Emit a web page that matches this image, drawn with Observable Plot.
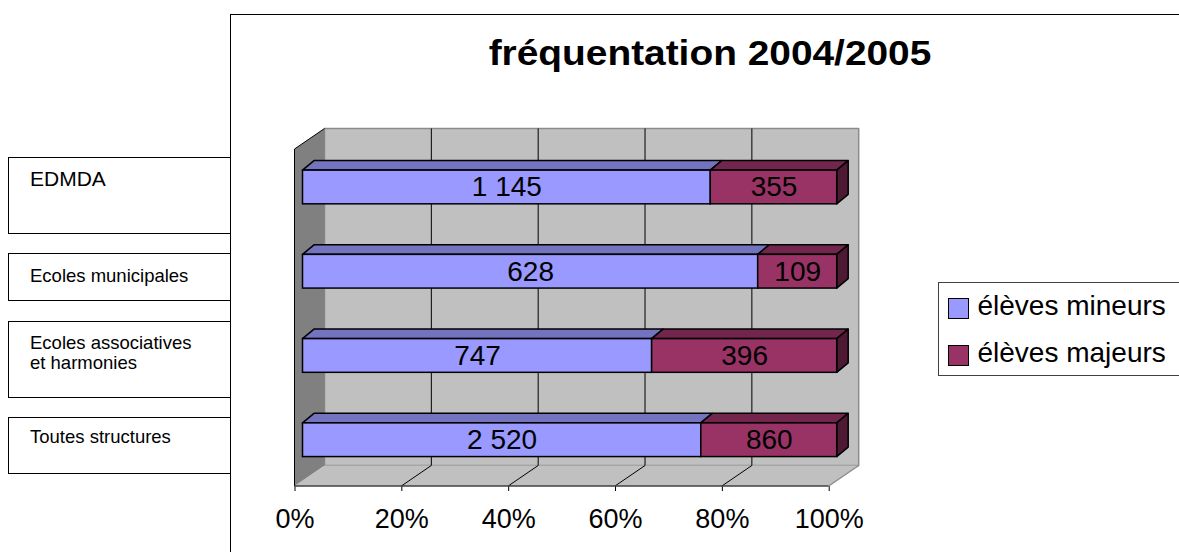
<!DOCTYPE html>
<html>
<head>
<meta charset="utf-8">
<script src="https://cdn.jsdelivr.net/npm/d3@7"></script>
<script src="https://cdn.jsdelivr.net/npm/@observablehq/plot@0.6"></script>
<style>
  html, body { margin: 0; padding: 0; }
  body { width: 1179px; height: 552px; overflow: hidden; background: #fff; position: relative;
         font-family: "Liberation Sans", Arial, sans-serif; color: #000; }
  .frame { position: absolute; left: 229.5px; top: 14px; width: 1200px; height: 800px;
           border-left: 1.5px solid #000; border-top: 1.5px solid #000; background: #fff; box-sizing: border-box; }
  .box { position: absolute; left: 8px; width: 224px; border: 1.5px solid #000; border-right: none;
         background: #fff; box-sizing: border-box; }
  .lbl { position: absolute; left: 30px; white-space: nowrap; font-size: 18.5px; line-height: 20.7px; }
  .title { position: absolute; left: 710px; top: 33px; font-size: 35px; font-weight: bold; white-space: nowrap;
           line-height: 1.15; transform: translateX(-50%) scaleX(1.11); }
  .legend { position: absolute; left: 938px; top: 282px; width: 260px; height: 94px;
            border: 1.5px solid #404040; box-sizing: border-box; background: #fff; }
  .sw { position: absolute; width: 21px; height: 21px; border: 1.5px solid #000; box-sizing: border-box; }
  .lt { position: absolute; white-space: nowrap; font-size: 28px; line-height: 1.15; }
  #chart { position: absolute; left: 0; top: 0; pointer-events: none; }
</style>
</head>
<body>
<div id="boxes"></div>
<div class="frame"></div>
<div id="labels"></div>
<div class="title" id="title"></div>
<div class="legend" id="legend"></div>
<div id="chart"></div>
<script>
// ---- data ----
const title = "fréquentation 2004/2005";
const categories = ["EDMDA", "Ecoles municipales", "Ecoles associatives\net harmonies", "Toutes structures"];
const mineurs = [1145, 628, 747, 2520];
const majeurs = [355, 109, 396, 860];
const seriesNames = ["élèves mineurs", "élèves majeurs"];
const xTicks = [0, 0.2, 0.4, 0.6, 0.8, 1];

// ---- style ----
const frontColors = ["#9999ff", "#993366"];
const topColors = ["#7373bf", "#73264d"];
const sideColors = ["#6b6bb3", "#4d1933"];
const W = [30, -20.5];          // depth of the chart walls
const BO = [8, -5];             // bar front offset
const BB = [19.5, -14.5];       // bar back offset
const BAR_Y1 = 0.31, BAR_Y2 = 0.71;
const yMax = categories.length;

const fmt = d3.formatLocale({decimal: ",", thousands: " ", grouping: [3], currency: ["", " €"]}).format(",d");

const rows = categories.flatMap((c, i) => {
  const vals = [mineurs[i], majeurs[i]];
  const total = d3.sum(vals);
  let acc = 0;
  return vals.map((v, k) => {
    const r = {cat: c, i, k, value: v, x1: acc / total, x2: (acc + v) / total, last: k === vals.length - 1};
    acc += v;
    return r;
  });
});

// ---- HTML parts: title, category boxes, legend ----
document.getElementById("title").textContent = title;

const boxGeom = [
  {top: 157, h: 77, fs: 21, ty: 169},
  {top: 253, h: 48, fs: 18.5, ty: 265.5},
  {top: 320.5, h: 77, fs: 18.5, ty: 332.5},
  {top: 416.5, h: 57.5, fs: 18.5, ty: 427}
];
const boxes = document.getElementById("boxes");
const labels = document.getElementById("labels");
categories.forEach((c, i) => {
  const g = boxGeom[i];
  const b = document.createElement("div");
  b.className = "box";
  b.style.top = g.top + "px";
  b.style.height = g.h + "px";
  boxes.appendChild(b);
  const t = document.createElement("div");
  t.className = "lbl";
  t.style.top = g.ty + "px";
  t.style.fontSize = g.fs + "px";
  t.innerHTML = c.split("\n").join("<br>");
  labels.appendChild(t);
});

const legend = document.getElementById("legend");
seriesNames.forEach((s, k) => {
  const sw = document.createElement("div");
  sw.className = "sw";
  sw.style.left = "9px";
  sw.style.top = (15 + k * 46.5) + "px";
  sw.style.background = frontColors[k];
  legend.appendChild(sw);
  const t = document.createElement("div");
  t.className = "lt";
  t.style.left = "38.5px";
  t.style.top = (7 + k * 46.5) + "px";
  t.textContent = s;
  legend.appendChild(t);
});

// ---- custom 3D shapes drawn through Plot's scales ----
function shapes(build) {
  return (index, scales, values, dimensions, context) => {
    const g = d3.create("svg:g");
    const P = (xv, yv, o) => [scales.x(xv) + o[0], scales.y(yv) + o[1]];
    build(P).forEach(s => {
      g.append("path")
        .attr("d", "M" + s.pts.join("L") + (s.open ? "" : "Z"))
        .attr("fill", s.fill || "none")
        .attr("stroke", s.stroke || "none")
        .attr("stroke-width", s.sw || 1)
        .attr("stroke-linejoin", "round");
    });
    return g.node();
  };
}
const Z = [0, 0];
const inner = xTicks.filter(t => t > 0 && t < 1);

const walls = shapes(P => [
  {pts: [P(0, 0, W), P(1, 0, W), P(1, yMax, W), P(0, yMax, W)], fill: "#c0c0c0", stroke: "#8c8c8c", sw: 1.5},
  {pts: [P(0, yMax, Z), P(1, yMax, Z), P(1, yMax, W), P(0, yMax, W)], fill: "#c0c0c0"},
  {pts: [P(0, 0, Z), P(0, 0, W), P(0, yMax, W), P(0, yMax, Z)], fill: "#808080"},
  ...inner.map(t => ({pts: [P(t, 0, W), P(t, yMax, W)], open: true, stroke: "#000"})),
  ...inner.map(t => ({pts: [P(t, yMax, Z), P(t, yMax, W)], open: true, stroke: "#000"})),
  {pts: [P(0, yMax, Z), P(0, 0, Z), P(0, 0, W)], open: true, stroke: "#000"},
  {pts: [P(0, yMax, Z), P(1, yMax, Z)], open: true, stroke: "#404040", sw: 1.5},
  {pts: [P(1, yMax, Z), P(1, yMax, W)], open: true, stroke: "#8c8c8c", sw: 1.5}
]);

const bars3d = shapes(P => rows.flatMap(r => {
  const yt = r.i + BAR_Y1, yb = r.i + BAR_Y2;
  const out = [{pts: [P(r.x1, yt, BO), P(r.x2, yt, BO), P(r.x2, yt, BB), P(r.x1, yt, BB)],
                fill: topColors[r.k], stroke: "#000", sw: 1.5}];
  if (r.last) out.push({pts: [P(r.x2, yt, BO), P(r.x2, yt, BB), P(r.x2, yb, BB), P(r.x2, yb, BO)],
                        fill: sideColors[r.k], stroke: "#000", sw: 1.5});
  return out;
}));

const plot = Plot.plot({
  width: 1179,
  height: 552,
  marginLeft: 294.5,
  marginRight: 350.3,
  marginTop: 149,
  marginBottom: 66,
  style: {background: "transparent", fontFamily: "'Liberation Sans', Arial, sans-serif", fontSize: "27px", color: "#000"},
  x: {domain: [0, 1], ticks: xTicks, tickFormat: d3.format(".0%"), tickSize: 5, tickPadding: 17.5, label: null},
  y: {domain: [0, yMax], reverse: true, axis: null},
  marks: [
    walls,
    bars3d,
    Plot.rect(rows, {
      x1: "x1", x2: "x2",
      y1: d => d.i + BAR_Y1, y2: d => d.i + BAR_Y2,
      dx: BO[0], dy: BO[1],
      fill: d => frontColors[d.k], stroke: "#000", strokeWidth: 1.5
    }),
    Plot.text(rows, {
      x: d => (d.x1 + d.x2) / 2,
      y: d => d.i + (BAR_Y1 + BAR_Y2) / 2,
      dx: BO[0], dy: BO[1],
      text: d => fmt(d.value),
      fontSize: 28, fill: "#000"
    })
  ]
});
document.getElementById("chart").appendChild(plot);
</script>
</body>
</html>
